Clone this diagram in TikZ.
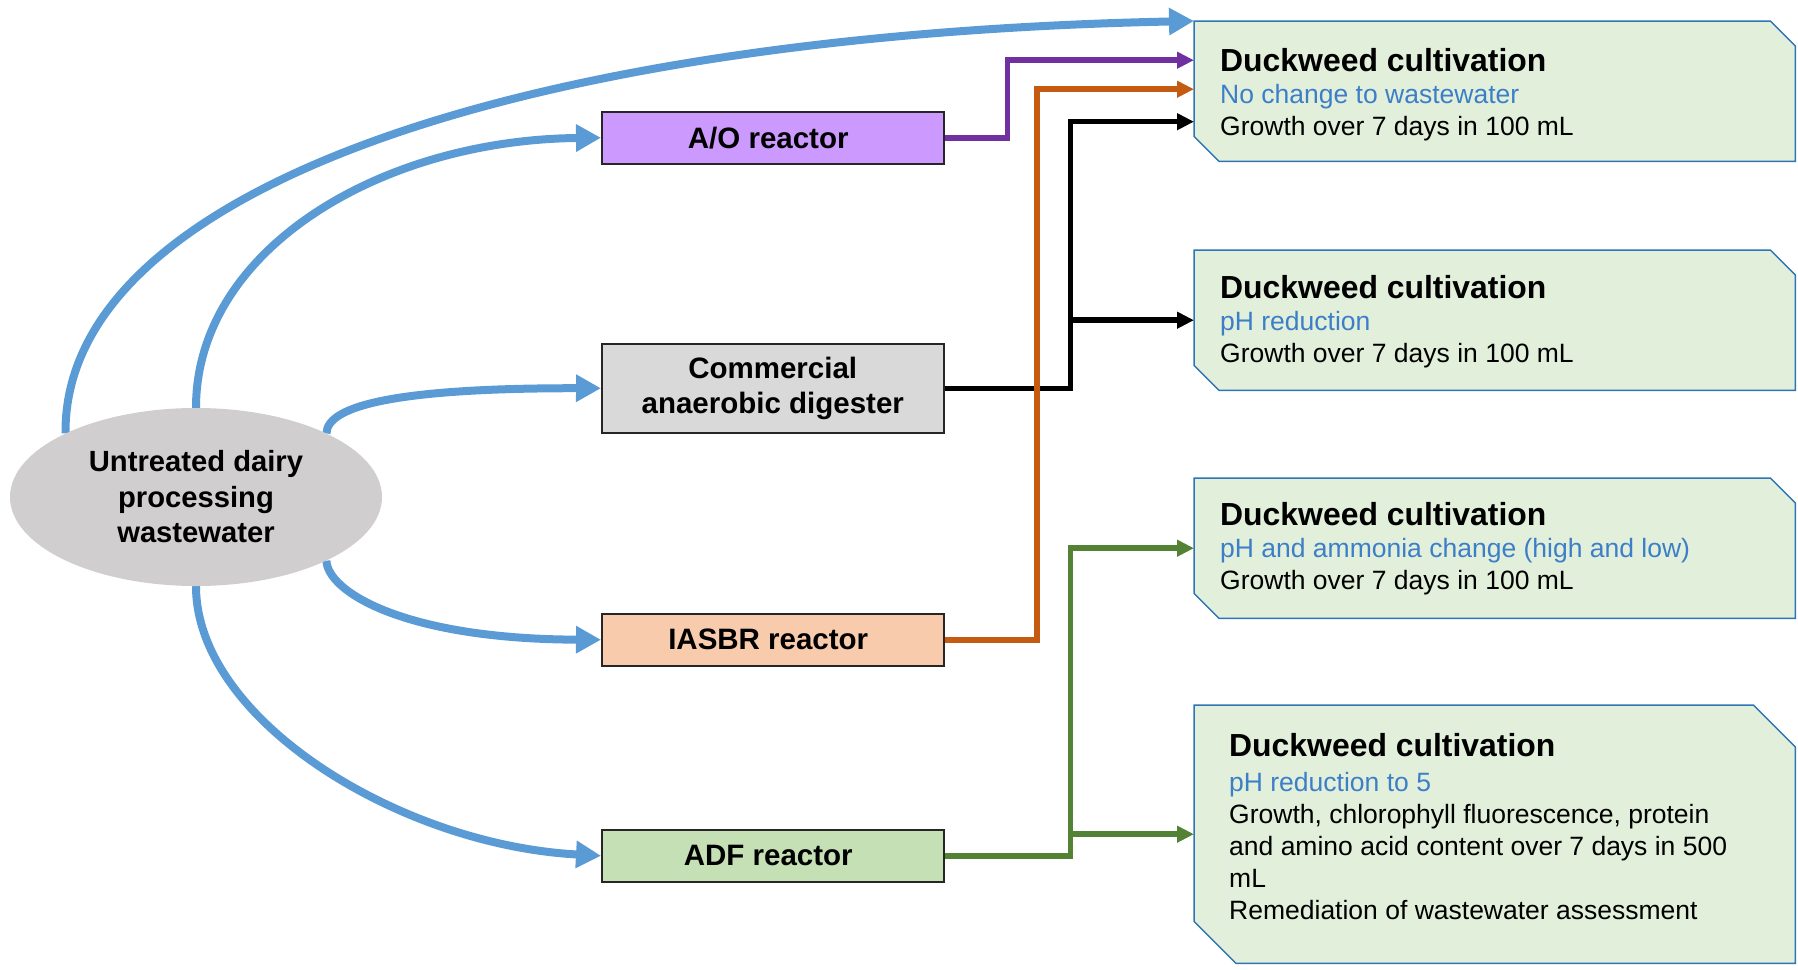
\documentclass[tikz,border=0pt]{standalone}
\usepackage{fontspec}
\setmainfont{Liberation Sans}
\usetikzlibrary{arrows.meta,calc,shapes.geometric}
\definecolor{flowblue}{HTML}{5B9BD5}
\definecolor{subblue}{HTML}{3C7FC8}
\definecolor{boxedge}{HTML}{2E75B6}
\definecolor{boxfill}{HTML}{E2EFDA}
\definecolor{aofill}{HTML}{CC99FF}
\definecolor{cadfill}{HTML}{D9D9D9}
\definecolor{iasfill}{HTML}{F8CBAD}
\definecolor{adffill}{HTML}{C5E0B4}
\definecolor{srcfill}{HTML}{D0CECE}
\definecolor{lnpurple}{HTML}{7030A0}
\definecolor{lnorange}{HTML}{C55A11}
\definecolor{lngreen}{HTML}{548235}
\pgfdeclarelayer{bg}
\pgfsetlayers{bg,main}
\tikzset{
  reactor/.style={draw=black!85, line width=1.5pt, minimum width=342pt, minimum height=52pt,
    inner sep=0pt, align=center, font=\bfseries\fontsize{29.5}{34.4}\selectfont},
  gbox/.style={inner sep=0pt, anchor=north west},
  gpoly/.style={fill=boxfill, draw=boxedge, line width=1.5pt},
  gtext/.style={inner sep=0pt, anchor=north west, align=left, font=\fontsize{26.5}{32}\selectfont},
  feed/.style={draw=flowblue, line width=8pt, -{Triangle[length=25pt,width=26pt]}},
  link/.style={line width=5.5pt, -{Triangle[length=17pt,width=16pt]}},
}
\newcommand{\ttl}[1]{{\bfseries\fontsize{31.9}{36}\selectfont #1}}
\newcommand{\subl}[1]{{\color{subblue}#1}}
\begin{document}
\begin{tikzpicture}[x=1pt,y=-1pt]
\useasboundingbox (0,0) rectangle (1798,969);

% source
\node[ellipse, fill=srcfill, minimum width=372pt, minimum height=178pt, inner sep=0pt,
  align=center, font=\bfseries\fontsize{29.2}{35.5}\selectfont] (src) at (196,497)
  {Untreated dairy\\processing\\wastewater};

% reactors
\node[reactor, fill=aofill, anchor=north west] (ao) at (601,111) {A/O reactor\hspace*{9pt}};
\node[reactor, fill=cadfill, anchor=north west, minimum height=89pt] (cad) at (601,343) {Commercial\\anaerobic digester};
\node[reactor, fill=iasfill, anchor=north west] (ias) at (601,613) {IASBR reactor\hspace*{9pt}};
\node[reactor, fill=adffill, anchor=north west] (adf) at (601,829) {ADF reactor\hspace*{9pt}};

% cultivation boxes
\node[gbox, minimum width=601pt, minimum height=140pt] (b1) at (1194,21) {};
\node[gbox, minimum width=601pt, minimum height=140pt] (b2) at (1194,250) {};
\node[gbox, minimum width=601pt, minimum height=140pt] (b3) at (1194,478) {};
\node[gbox, minimum width=601pt, minimum height=258pt] (b4) at (1194,705) {};
\foreach \b/\s in {b1/25,b2/25,b3/25,b4/42}{
  \draw[gpoly] (\b.north west) -- ([xshift=-\s pt]\b.north east) -- ([yshift=-\s pt]\b.north east)
    -- (\b.south east) -- ([xshift=\s pt]\b.south west) -- ([yshift=\s pt]\b.south west) -- cycle;
}
\node[gtext] (t1) at ([xshift=26pt,yshift=-27pt]b1.north west)
  {\ttl{Duckweed cultivation}\\[0.5pt]\subl{No change to wastewater}\\Growth over 7 days in 100 mL};
\node[gtext] (t2) at ([xshift=26pt,yshift=-25pt]b2.north west)
  {\ttl{Duckweed cultivation}\\[0.5pt]\subl{pH reduction}\\Growth over 7 days in 100 mL};
\node[gtext] (t3) at ([xshift=26pt,yshift=-24pt]b3.north west)
  {\ttl{Duckweed cultivation}\\[0.5pt]\subl{pH and ammonia change (high and low)}\\Growth over 7 days in 100 mL};
\node[gtext] (t4) at ([xshift=35pt,yshift=-28pt]b4.north west)
  {\ttl{Duckweed cultivation}\\[3pt]\subl{pH reduction to 5}\\Growth, chlorophyll fluorescence, protein\\and amino acid content over 7 days in 500\\mL\\Remediation of wastewater assessment};

% feed curves
\begin{pgfonlayer}{bg}
\draw[feed] (src.154) .. controls (63,190) and (520,35) .. (b1.north west);
\draw[feed] (src.north) .. controls (196,250) and (380,140) .. (ao.west);
\draw[feed] (src.26) .. controls (327,405) and (400,388) .. (cad.west);
\draw[feed] (src.-26) .. controls (327,590) and (400,639) .. (ias.west);
\draw[feed] (src.south) .. controls (196,720) and (400,845) .. (adf.west);
\end{pgfonlayer}

% links
\draw[link, lnpurple] (ao.east) -- ++(63,0) |- ([yshift=31pt]b1.west);
\draw[link, black] (cad.east) -- ++(126,0) |- ([yshift=-30.5pt]b1.west);
\draw[link, black] (cad.east) -- ++(126,0) |- (b2.west);
\draw[link, lnorange] (ias.east) -- ++(92.5,0) |- ([yshift=2pt]b1.west);
\draw[link, lngreen] (adf.east) -- ++(126,0) |- (b3.west);
\draw[link, lngreen] (adf.east) -- ++(126,0) |- (b4.west);
\end{tikzpicture}
\end{document}
